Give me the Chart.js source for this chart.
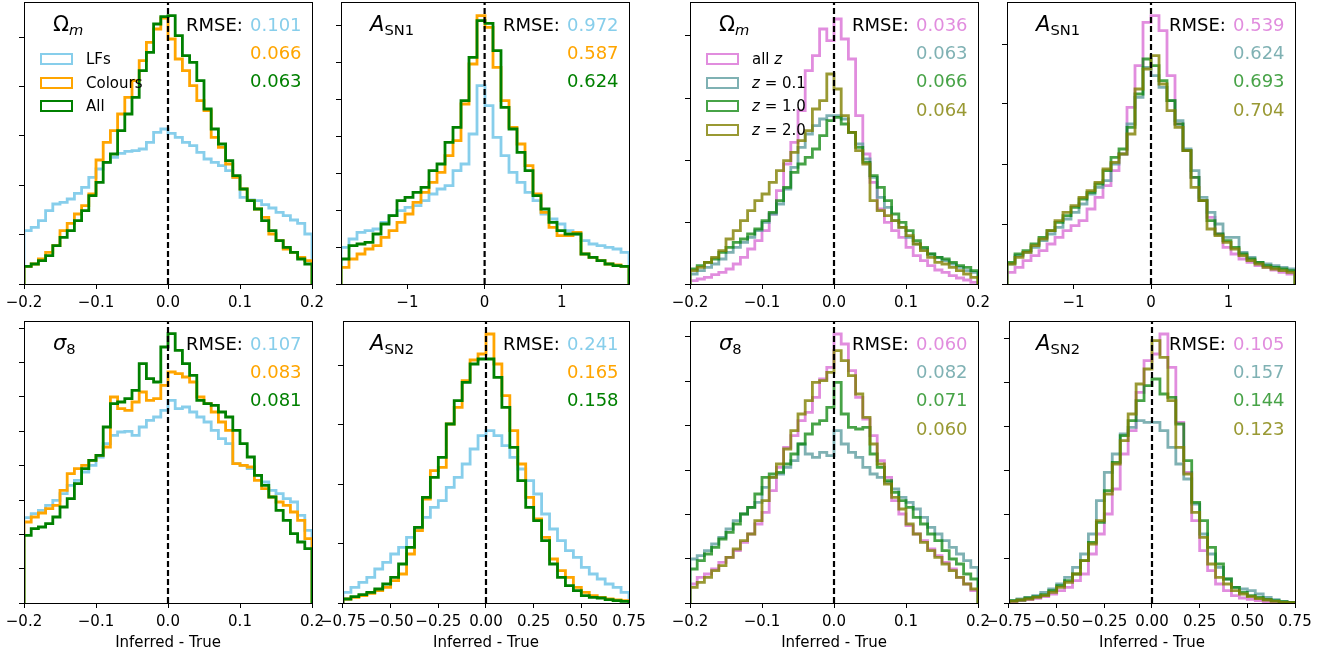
<!DOCTYPE html>
<html>
<head>
<meta charset="utf-8">
<script src="https://cdn.jsdelivr.net/npm/chart.js@4.4.0/dist/chart.umd.min.js"></script>
<style>
  body { margin: 0; background: #fff; width: 1338px; height: 661px; overflow: hidden; position: relative;
         font-family: 'DejaVu Sans', sans-serif; color: #000; }
  canvas { position: absolute; }
  .txt { position: absolute; white-space: nowrap; transform: translateY(-50%); line-height: normal; }
  .ttl { font-size: 21px; }
  .ttl sub { font-size: 70%; vertical-align: -0.3em; line-height: 0; }
  .rmse { font-size: 18px; }
  .leg { font-size: 15px; }
  .patch { position: absolute; width: 33px; height: 12px; box-sizing: border-box; border: 2.5px solid; transform: translateY(-50%); }
</style>
</head>
<body>
<script>
// ---- data: histogram heights (counts, arbitrary units) ----
// Omega_m, galaxy property sets
const OMEGA_LFS     = [160,170,190,220,240,245,255,272,290,320, 345,365,380,392,398,400,405,425,455,465, 452,440,425,415,395,375,365,355,340,320, 260,252,250,238,228,215,205,192,182,150];
const OMEGA_COLOURS = [53,60,75,95,115,160,182,210,235,270, 372,425,460,510,560,610,670,725,765,798, 735,675,640,595,550,520,440,410,360,320, 285,250,225,200,150,130,105,95,80,70];
const OMEGA_ALL     = [53,60,70,85,115,140,160,190,220,265, 305,365,390,460,510,560,640,695,780,802, 805,745,685,665,610,525,465,420,370,325, 285,250,225,190,160,130,110,95,75,60];
// A_SN1, galaxy property sets
const ASN1_LFS     = [110,135,155,160,165,185,205,220,230,235, 250,270,285,295,340,360,450,595,535,440, 385,335,305,275,250,210,195,180,160,150, 130,120,115,110,105,95];
const ASN1_COLOURS = [50,75,90,105,115,140,160,185,210,245, 275,305,335,385,430,540,660,805,770,650, 550,470,420,355,270,215,170,145,145,155, 90,80,70,60,57,53];
const ASN1_ALL     = [75,115,120,125,150,180,205,250,260,275, 290,340,360,425,470,550,680,790,782,700, 530,465,395,340,265,225,185,160,150,150, 90,80,70,60,55,53];
// sigma_8, galaxy property sets
const SIGMA_LFS     = [256,268,278,293,308,328,353,368,393,413, 438,478,503,513,515,503,528,548,558,578, 608,583,588,573,558,543,518,493,478,418, 413,403,383,363,338,328,313,303,263,218];
const SIGMA_COLOURS = [243,258,270,283,293,338,388,403,413,428, 443,468,618,583,578,603,633,608,613,653, 693,688,678,663,618,598,573,543,518,418, 413,408,368,343,318,303,293,273,248,193];
const SIGMA_ALL     = [203,223,228,238,258,288,313,358,403,428, 443,528,598,603,613,638,718,673,663,768, 808,758,718,683,608,598,593,573,558,518, 478,438,383,353,318,278,248,208,183,163];
// A_SN2, galaxy property sets
const ASN2_LFS     = [32,47,62,77,102,122,147,167,197,222, 257,287,307,347,377,417,462,502,517,502, 472,437,402,367,327,267,222,187,157,137, 107,87,72,57,47,32];
const ASN2_COLOURS = [12,17,22,29,37,47,67,87,147,217, 312,397,407,537,587,667,729,747,807,717, 622,517,417,317,252,197,132,97,77,47, 32,22,17,12,9,7];
const ASN2_ALL     = [12,19,25,32,42,57,77,117,167,227, 317,377,437,537,607,662,717,732,732,677, 587,467,367,287,247,187,117,77,52,37, 22,17,15,10,7,5];

// Omega_m, redshift sets
const OMEGA_ZALL = [10,15,20,28,35,45,60,80,105,130, 160,210,280,360,425,520,640,685,765,730, 795,735,675,505,390,305,225,185,160,140, 110,85,70,55,42,35,25,18,12,5];
const OMEGA_Z01  = [30,40,50,60,75,95,110,125,140,160, 185,210,240,285,350,410,450,475,495,505, 505,495,455,420,375,320,260,230,190,170, 140,120,105,90,80,70,60,50,40,35];
const OMEGA_Z10  = [45,55,65,75,95,110,125,135,150,165, 190,215,250,290,335,360,380,405,445,490, 500,480,455,410,365,325,290,250,210,185, 160,130,110,90,80,75,65,55,50,40];
const OMEGA_Z20  = [40,50,65,80,100,135,160,190,220,250, 270,305,340,370,395,430,460,525,550,630, 585,505,455,400,360,250,220,205,190,170, 145,120,100,80,65,60,50,40,30,20];
// A_SN1, redshift sets
const ASN1_ZALL = [35,50,70,85,100,120,140,160,175,190, 225,260,295,340,390,530,655,785,805,760, 625,480,400,320,250,200,150,110,90,75, 65,55,50,42,35,30];
const ASN1_Z01  = [60,85,95,110,130,150,170,195,215,240, 270,290,310,360,390,480,560,650,625,590, 550,490,405,340,260,215,180,140,140,95, 80,65,60,55,50,45];
const ASN1_Z10  = [65,90,100,120,140,160,185,205,230,255, 275,300,340,380,405,470,570,675,655,610, 550,480,400,320,250,190,150,130,110,90, 75,65,55,50,45,40];
const ASN1_Z20  = [60,80,95,115,135,160,190,215,235,260, 280,305,345,365,390,450,585,645,685,600, 520,470,400,290,250,165,145,125,105,85, 70,60,50,45,40,35];
// sigma_8, redshift sets
const SIGMA_ZALL = [57,77,87,102,122,137,157,182,207,237, 272,337,407,467,502,547,572,617,672,707, 807,777,697,617,552,502,427,377,307,267, 232,207,187,162,142,122,102,77,57,37];
const SIGMA_Z01  = [132,142,157,177,197,222,247,267,287,302, 347,377,387,407,427,477,447,437,452,442, 517,477,452,437,407,387,377,362,342,317, 302,282,257,227,207,187,167,147,127,107];
const SIGMA_Z10  = [102,127,147,167,192,212,237,267,287,327, 377,387,392,417,447,477,507,537,547,587, 662,567,527,522,527,447,407,367,332,307, 287,257,237,207,187,157,132,117,87,72];
const SIGMA_Z20  = [47,62,77,97,112,137,162,187,207,247, 307,377,417,462,517,567,607,662,667,692, 757,727,682,627,557,477,417,357,317,282, 237,207,182,157,137,117,97,77,57,42];
// A_SN2, redshift sets
const ASN2_ZALL = [4,7,10,14,19,27,37,47,67,87, 147,207,267,342,447,517,632,727,747,807, 707,542,392,247,157,97,57,37,22,15, 11,7,4,2,1,0];
const ASN2_Z01  = [7,12,17,22,32,42,57,77,107,147, 207,307,392,447,507,527,547,542,542,517, 467,417,372,297,207,147,107,72,47,42, 37,27,17,10,5,2];
const ASN2_Z10  = [7,9,15,19,25,37,52,67,87,127, 182,242,337,422,502,547,607,652,672,627, 617,537,427,302,247,167,117,72,47,32, 22,17,11,7,4,2];
const ASN2_Z20  = [5,9,12,17,22,32,47,62,87,127, 177,247,327,417,487,567,657,702,787,737, 607,467,387,272,197,117,77,57,37,27, 19,13,9,5,2,1];

const SET_LABELS = ['LFs', 'Colours', 'All'];
const Z_LABELS   = ['all <i>z</i>', '<i>z</i> = 0.1', '<i>z</i> = 1.0', '<i>z</i> = 2.0'];

const RMSE_OMEGA_SET = ['0.101', '0.066', '0.063'];
const RMSE_ASN1_SET  = ['0.972', '0.587', '0.624'];
const RMSE_SIGMA_SET = ['0.107', '0.083', '0.081'];
const RMSE_ASN2_SET  = ['0.241', '0.165', '0.158'];
const RMSE_OMEGA_Z   = ['0.036', '0.063', '0.066', '0.064'];
const RMSE_ASN1_Z    = ['0.539', '0.624', '0.693', '0.704'];
const RMSE_SIGMA_Z   = ['0.060', '0.082', '0.071', '0.060'];
const RMSE_ASN2_Z    = ['0.105', '0.157', '0.144', '0.123'];

const X_TITLE = 'Inferred - True';

// ---- styling / layout ----
const SET_COLORS = ['#87CEEB', '#FFA500', '#008000'];
const Z_COLORS   = ['rgba(218,112,214,0.8)', 'rgba(95,158,160,0.8)', 'rgba(0,128,0,0.72)', 'rgba(128,128,0,0.8)'];

const COL_L = [24, 341, 690, 1007];
const ROW_T = [2, 321];
const W = 288, H = 282;
const PAD_L = 26, PAD_R = 26, PAD_T = 2;
const YMAX = 846;

Chart.defaults.font.family = "'DejaVu Sans', sans-serif";
Chart.defaults.font.size = 15;
Chart.defaults.color = '#000';

const TITLE_OMEGA = 'Ω<sub><i>m</i></sub>';
const TITLE_SIGMA = '<i>σ</i><sub>8</sub>';
const TITLE_ASN1  = '<i>A</i><sub>SN1</sub>';
const TITLE_ASN2  = '<i>A</i><sub>SN2</sub>';

const PANELS = [
  { col: 0, row: 0, title: TITLE_OMEGA, range: [-0.2, 0.2], xStep: 0.1, dec: 1, yStep: 148.2,
    series: [OMEGA_LFS, OMEGA_COLOURS, OMEGA_ALL], colors: SET_COLORS, rmse: RMSE_OMEGA_SET, legend: SET_LABELS },
  { col: 1, row: 0, title: TITLE_ASN1, range: [-1.86, 1.87], xStep: 1, dec: 0, yStep: 110.7,
    series: [ASN1_LFS, ASN1_COLOURS, ASN1_ALL], colors: SET_COLORS, rmse: RMSE_ASN1_SET },
  { col: 2, row: 0, title: TITLE_OMEGA, range: [-0.2, 0.2], xStep: 0.1, dec: 1, yStep: 186,
    series: [OMEGA_ZALL, OMEGA_Z01, OMEGA_Z10, OMEGA_Z20], colors: Z_COLORS, rmse: RMSE_OMEGA_Z, legend: Z_LABELS },
  { col: 3, row: 0, title: TITLE_ASN1, range: [-1.86, 1.86], xStep: 1, dec: 0, yStep: 180,
    series: [ASN1_ZALL, ASN1_Z01, ASN1_Z10, ASN1_Z20], colors: Z_COLORS, rmse: RMSE_ASN1_Z },
  { col: 0, row: 1, title: TITLE_SIGMA, range: [-0.2, 0.2], xStep: 0.1, dec: 1, yStep: 103,
    series: [SIGMA_LFS, SIGMA_COLOURS, SIGMA_ALL], colors: SET_COLORS, rmse: RMSE_SIGMA_SET },
  { col: 1, row: 1, title: TITLE_ASN2, range: [-0.75, 0.75], xStep: 0.25, dec: 2, yStep: 178.5,
    series: [ASN2_LFS, ASN2_COLOURS, ASN2_ALL], colors: SET_COLORS, rmse: RMSE_ASN2_SET },
  { col: 2, row: 1, title: TITLE_SIGMA, range: [-0.2, 0.2], xStep: 0.1, dec: 1, yStep: 133,
    series: [SIGMA_ZALL, SIGMA_Z01, SIGMA_Z10, SIGMA_Z20], colors: Z_COLORS, rmse: RMSE_SIGMA_Z },
  { col: 3, row: 1, title: TITLE_ASN2, range: [-0.75, 0.75], xStep: 0.25, dec: 2, yStep: 132.5,
    series: [ASN2_ZALL, ASN2_Z01, ASN2_Z10, ASN2_Z20], colors: Z_COLORS, rmse: RMSE_ASN2_Z }
];

// step outline of a histogram, like matplotlib histtype='step'
function histPoints(counts, lo, hi) {
  const n = counts.length;
  const edge = (i) => lo + (hi - lo) * i / n;
  const pts = [{ x: lo, y: 0 }];
  counts.forEach((c, i) => pts.push({ x: edge(i), y: c }));
  pts.push({ x: hi, y: counts[n - 1] });
  pts.push({ x: hi, y: 0 });
  return pts;
}

function fmtTick(v, dec) {
  if (Math.abs(v) < 1e-9) v = 0;
  return v.toFixed(dec).replace('-', '\u2212');
}

const framePlugin = {
  id: 'frame',
  afterDraw(chart) {
    const { ctx, chartArea: a } = chart;
    ctx.save();
    ctx.strokeStyle = '#000';
    ctx.lineWidth = 1;
    ctx.strokeRect(a.left + 0.5, a.top + 0.5, a.right - a.left, a.bottom - a.top);
    ctx.restore();
  }
};

function addText(cls, html, left, top, color) {
  const d = document.createElement('div');
  d.className = 'txt ' + cls;
  d.innerHTML = html;
  d.style.left = left + 'px';
  d.style.top = top + 'px';
  if (color) d.style.color = color;
  document.body.appendChild(d);
}

function buildPanel(p) {
  const L = COL_L[p.col], T = ROW_T[p.row];
  const padB = p.row === 1 ? 50 : 30;
  const cv = document.createElement('canvas');
  cv.width = W + PAD_L + PAD_R;
  cv.height = H + PAD_T + padB;
  cv.style.left = (L - PAD_L) + 'px';
  cv.style.top = (T - PAD_T) + 'px';
  document.body.appendChild(cv);

  const n = p.series.length;
  const datasets = p.series.map((s, i) => ({
    data: histPoints(s, p.range[0], p.range[1]),
    borderColor: p.colors[i],
    borderWidth: 2.8,
    stepped: true,
    pointRadius: 0,
    fill: false,
    order: n - i
  }));
  // vertical reference at zero
  datasets.push({
    data: [{ x: 0, y: 0 }, { x: 0, y: YMAX }],
    borderColor: '#000', borderWidth: 2.2, borderDash: [6, 3],
    pointRadius: 0, fill: false, order: 0
  });

  new Chart(cv, {
    type: 'line',
    data: { datasets: datasets },
    options: {
      responsive: false,
      animation: false,
      devicePixelRatio: 1,
      layout: { padding: { left: 0, right: PAD_R, top: PAD_T, bottom: 0 } },
      plugins: { legend: { display: false }, tooltip: { enabled: false } },
      elements: { line: { tension: 0 } },
      scales: {
        x: {
          type: 'linear', min: p.range[0], max: p.range[1],
          border: { display: false },
          grid: { drawOnChartArea: false, tickLength: 5, color: '#000', lineWidth: 1 },
          ticks: { stepSize: p.xStep, includeBounds: false, autoSkip: false, maxRotation: 0,
                   color: '#000', padding: 5, font: { size: 15 },
                   callback: (v) => fmtTick(v, p.dec) },
          title: { display: p.row === 1, text: X_TITLE, color: '#000', font: { size: 15 },
                   padding: { top: 0, bottom: 1 } },
          afterFit: (s) => { s.height = padB; }
        },
        y: {
          min: 0, max: YMAX,
          border: { display: false },
          grid: { drawOnChartArea: false, tickLength: 5, color: '#000', lineWidth: 1 },
          ticks: { display: false, stepSize: p.yStep, includeBounds: false },
          afterFit: (s) => { s.width = PAD_L; }
        }
      }
    },
    plugins: [framePlugin]
  });

  // panel label, RMSE column, legend
  addText('ttl', p.title, L + 29, T + 22);
  addText('rmse', 'RMSE:', L + 162, T + 21.5);
  p.rmse.forEach((r, i) => addText('rmse', r, L + 226, T + 21.5 + 28.4 * i, p.colors[i]));
  if (p.legend) {
    p.legend.forEach((lab, i) => {
      const y = T + 57 + 23.5 * i;
      const box = document.createElement('div');
      box.className = 'patch';
      box.style.left = (L + 16) + 'px';
      box.style.top = y + 'px';
      box.style.borderColor = p.colors[i];
      document.body.appendChild(box);
      addText('leg', lab, L + 62, y);
    });
  }
}

PANELS.forEach(buildPanel);
</script>
</body>
</html>
